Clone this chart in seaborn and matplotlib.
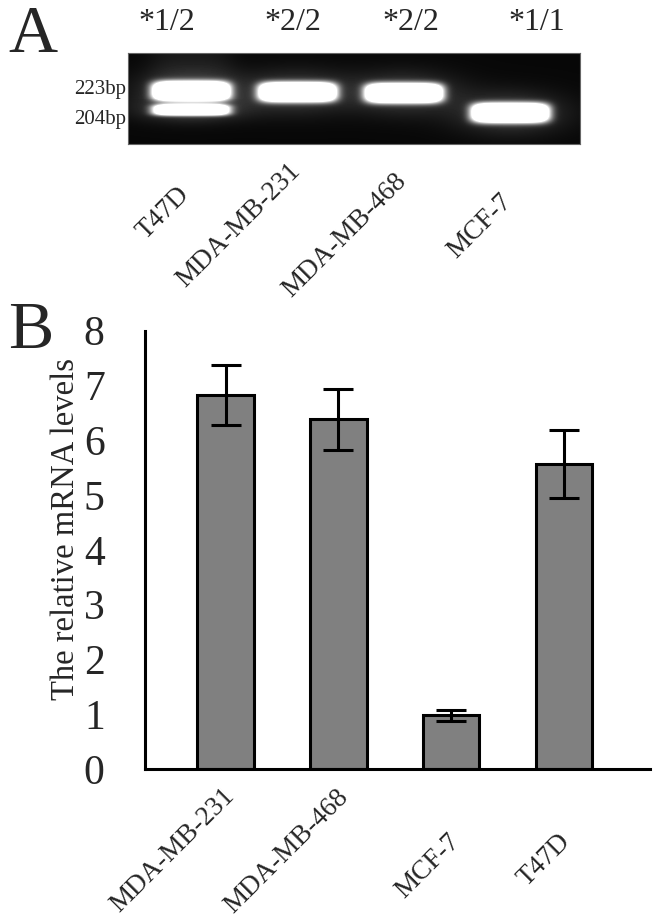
import numpy as np
import matplotlib
matplotlib.use('Agg')
import matplotlib.pyplot as plt
import seaborn as sns
from matplotlib.transforms import ScaledTranslation, blended_transform_factory

# ---------------- Panel A data (gel) ----------------
gel_lanes = ['T47D', 'MDA-MB-231', 'MDA-MB-468', 'MCF-7']
gel_genotypes = ['*1/2', '*2/2', '*2/2', '*1/1']
marker_bp = [223, 204]
marker_labels = ['223bp', '204bp']
band_223 = [1.0, 1.0, 1.0, 0.0]     # relative band intensity per lane
band_204 = [0.8, 0.0, 0.0, 1.0]

# ---------------- Panel B data (bars) ----------------
cells = ['MDA-MB-231', 'MDA-MB-468', 'MCF-7', 'T47D']
mrna = [6.82, 6.38, 0.98, 5.57]
mrna_sd = [0.55, 0.55, 0.10, 0.62]
yticks = [0, 1, 2, 3, 4, 5, 6, 7, 8]

sns.set_style('white')
plt.rcParams['font.family'] = ['Liberation Serif', 'DejaVu Serif']

W, H = 658, 918
fig = plt.figure(figsize=(W / 100, H / 100), dpi=100)

def px_axes(l, t, r, b):
    return fig.add_axes([l / W, 1 - b / H, (r - l) / W, (b - t) / H])

def shift(label, dx, dy):
    label.set_transform(label.get_transform() +
                        ScaledTranslation(dx / 100, -dy / 100, fig.dpi_scale_trans))

# ================= Panel A =================
axg = px_axes(128, 53, 580, 144)
x_lo, x_hi = -0.59, 3.65
y_lo, y_hi = 170, 261
nx, ny = 452, 91
xs = np.linspace(x_lo, x_hi, nx)
ys = np.linspace(y_lo, y_hi, ny)
X, Y = np.meshgrid(xs, ys)
img = np.full(X.shape, 0.03)
lane_drift = [0, -1, -2, -3]
for i in range(len(gel_lanes)):
    if band_204[i] > 0 and band_223[i] > 0:
        img += 0.06 * np.exp(-(np.abs(X - i) / 0.4) ** 4) * (Y > 215)
    for bp, amp in zip(marker_bp, [band_223[i], band_204[i]]):
        if amp <= 0:
            continue
        cy = bp + lane_drift[i]
        hx = 0.36
        hy = 9.5 if amp >= 1 else 5.5
        dx = (X - i) / hx
        dy = (Y - cy) / hy
        r = np.abs(dx) ** 6 + np.abs(dy) ** 3
        img += 2.4 * amp * np.exp(-r)
        img += 0.22 * amp * np.exp(-((X - i) / 0.5) ** 2 - ((Y - cy) / (hy * 2.2)) ** 2)
img = np.clip(img, 0, 1)
axg.imshow(img, extent=[x_lo, x_hi, y_lo, y_hi], origin='lower', aspect='auto',
           cmap='gray', vmin=0, vmax=1, interpolation='bilinear')
axg.set_xlim(x_lo, x_hi)
axg.set_ylim(y_lo, y_hi)
for s in axg.spines.values():
    s.set_visible(True)
    s.set_color('#666666')
    s.set_linewidth(0.8)

axg.set_yticks(marker_bp)
axg.set_yticklabels(marker_labels, fontsize=15)
axg.tick_params(axis='y', length=0, pad=1)
for lab, dy in zip(axg.get_yticklabels(), [-4, 7]):
    shift(lab, 0, dy)

axg.set_xticks(range(len(gel_lanes)))
axg.set_xticklabels(gel_lanes, rotation=45, ha='right', va='center',
                    rotation_mode='anchor', fontsize=19.5)
axg.tick_params(axis='x', length=0, pad=17)
for lab, (dx, dy) in zip(axg.get_xticklabels(), [(-5, 23), (-1, 0), (-1, 10), (-3, 30)]):
    shift(lab, dx, dy)

geno_shift = [-0.23, -0.04, 0.06, 0.24]
geno_tr = blended_transform_factory(axg.transData, fig.transFigure)
for i, (g, sh) in enumerate(zip(gel_genotypes, geno_shift)):
    axg.text(i + sh, 1 - 30 / H, g, transform=geno_tr,
             ha='center', va='baseline', fontsize=23)

fig.text(8 / W, 1 - 52 / H, 'A', fontsize=49, ha='left', va='baseline')
fig.text(8 / W, 1 - 348 / H, 'B', fontsize=49, ha='left', va='baseline')

# ================= Panel B =================
ax = px_axes(145, 330.7, 650, 769)
sns.barplot(x=cells, y=mrna, color='#808080', saturation=1, edgecolor='black',
            linewidth=2.2, width=0.5, errorbar=None, ax=ax, zorder=2)
ax.errorbar(np.arange(len(cells)), mrna, yerr=mrna_sd, fmt='none', ecolor='black',
            elinewidth=2.2, capsize=10.8, capthick=2.2, zorder=3)

xmin, xmax = -0.714, 3.762
ax.set_xlim(xmin, xmax)
ax.set_ylim(0, 8)
ax.set_yticks(yticks)
ax.set_yticklabels([str(v) for v in yticks], fontsize=30)
ax.tick_params(axis='y', direction='in', length=11.5, width=2.2, pad=29)

ax.set_xticks(range(len(cells)))
ax.set_xticklabels(cells, rotation=45, ha='right', va='center',
                   rotation_mode='anchor', fontsize=19.5)
ax.tick_params(axis='x', which='major', length=0, pad=17)
for lab, (dx, dy) in zip(ax.get_xticklabels(), [(5, 0), (6, 1), (5, 45), (3, 45)]):
    shift(lab, dx, dy)
ax.set_xticks([xmax], minor=True)
ax.tick_params(axis='x', which='minor', direction='in', length=11, width=2.2)

sns.despine(ax=ax, top=True, right=True)
for side in ['left', 'bottom']:
    ax.spines[side].set_linewidth(2.2)
    ax.spines[side].set_color('black')

ax.set_xlabel('')
ax.set_ylabel('The relative mRNA levels', fontsize=23.5)
ax.yaxis.set_label_coords(-0.127, 0.548)

fig.savefig('out.png', dpi=100, facecolor='white')
